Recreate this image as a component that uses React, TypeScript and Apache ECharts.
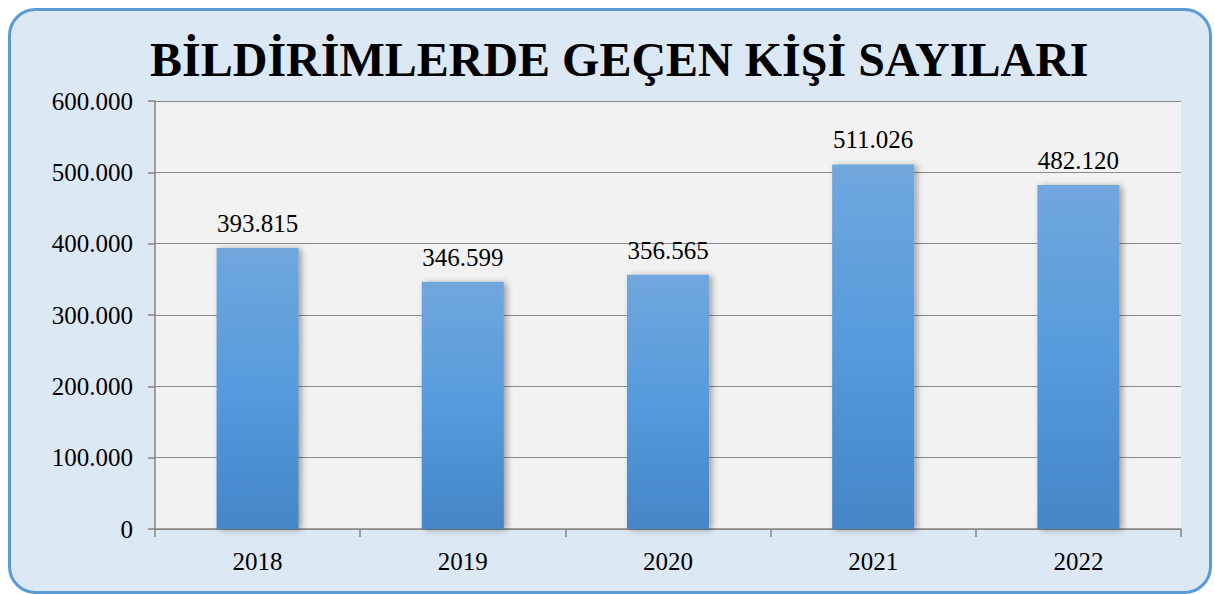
import React, { useEffect, useRef } from "react";
import * as echarts from "echarts";

const TITLE = "BİLDİRİMLERDE GEÇEN KİŞİ SAYILARI";
const YEARS = ["2018", "2019", "2020", "2021", "2022"];
const VALUES = [393815, 346599, 356565, 511026, 482120];
const Y_MAX = 600000;
const Y_STEP = 100000;

const fmt = (v: number) => String(Math.round(v)).replace(/\B(?=(\d{3})+(?!\d))/g, ".");

const FONT = "Liberation Serif";

export default function App() {
  const ref = useRef<HTMLDivElement>(null);
  useEffect(() => {
    if (!ref.current) return;
    const chart = echarts.init(ref.current, null, { renderer: "svg" });
    chart.setOption({
      animation: false,
      backgroundColor: "#ffffff",
      textStyle: { fontFamily: FONT },
      graphic: [
        {
          type: "rect",
          z: -10,
          silent: true,
          shape: { x: 9.5, y: 9.5, width: 1201, height: 583, r: 26 },
          style: { fill: "#dde8f5", stroke: "#5b9bd5", lineWidth: 3 },
        },
      ],
      title: {
        text: TITLE,
        left: 145,
        top: 30,
        textStyle: {
          fontFamily: FONT,
          fontWeight: "bold",
          fontSize: 48,
          color: "#000000",
        },
      },
      grid: {
        left: 155,
        right: 34,
        top: 101,
        bottom: 65,
        show: true,
        backgroundColor: "#f2f2f2",
        borderWidth: 0,
      },
      xAxis: {
        type: "category",
        data: YEARS,
        axisLine: { show: true, lineStyle: { color: "#868686", width: 1.5 } },
        axisTick: { show: true, length: 8, lineStyle: { color: "#868686", width: 1.5 } },
        axisLabel: { fontFamily: FONT, fontSize: 25, color: "#000", margin: 20 },
      },
      yAxis: {
        type: "value",
        min: 0,
        max: Y_MAX,
        interval: Y_STEP,
        axisLine: { show: true, lineStyle: { color: "#868686", width: 1.5 } },
        axisTick: { show: true, length: 7, lineStyle: { color: "#868686", width: 1.5 } },
        splitLine: { show: true, lineStyle: { color: "#8c8c8c", width: 1.2 } },
        axisLabel: {
          fontFamily: FONT,
          fontSize: 25,
          color: "#000",
          margin: 22,
          formatter: (v: number) => fmt(v),
        },
      },
      series: [
        {
          type: "bar",
          data: VALUES,
          barWidth: "40%",
          itemStyle: {
            color: new echarts.graphic.LinearGradient(0, 0, 0, 1, [
              { offset: 0, color: "#70a7dd" },
              { offset: 0.5, color: "#569bdc" },
              { offset: 1, color: "#4586c6" },
            ]),
            shadowColor: "rgba(0,0,0,0.35)",
            shadowBlur: 6,
            shadowOffsetX: 3,
            shadowOffsetY: 1,
          },
          label: {
            show: true,
            position: "top",
            distance: 12,
            fontFamily: FONT,
            fontSize: 25,
            color: "#000",
            formatter: (p: any) => fmt(p.value),
          },
        },
      ],
    });
    return () => chart.dispose();
  }, []);
  return (
    <div
      ref={ref}
      style={{ position: "fixed", left: 0, top: 0, width: 1215, height: 594 }}
    />
  );
}
